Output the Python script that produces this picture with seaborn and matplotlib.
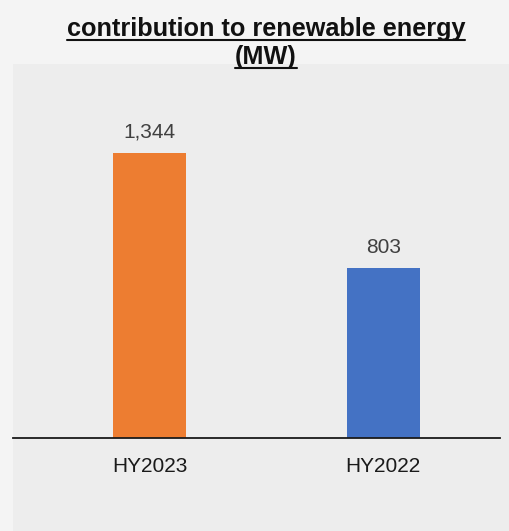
import matplotlib
matplotlib.use("Agg")
import matplotlib.pyplot as plt
import seaborn as sns
import pandas as pd
from matplotlib.lines import Line2D

categories = ["HY2023", "HY2022"]
values = [1344, 803]
value_labels = ["1,344", "803"]
colors = ["#ED7D31", "#4472C4"]
title_lines = ["contribution to renewable energy", "(MW)"]

sns.set_style("white")
plt.rcParams["font.family"] = ["Liberation Sans", "DejaVu Sans"]

W, H = 510, 531
fig = plt.figure(figsize=(W / 100, H / 100), dpi=100)
fig.patch.set_facecolor("#F4F4F4")

bg = fig.add_axes([13 / W, 0, 1 - 13 / W, (H - 64) / H], zorder=-5)
bg.set_facecolor("#EDEDED")
bg.set_xticks([])
bg.set_yticks([])
for s in bg.spines.values():
    s.set_visible(False)

ax = fig.add_axes([13 / W, (H - 438) / H, 487 / W, (438 - 100) / H], zorder=1)
ax.set_facecolor("none")

df = pd.DataFrame({"cat": categories, "val": values})
sns.barplot(data=df, x="cat", y="val", hue="cat", palette=colors,
            width=0.313, legend=False, ax=ax, saturation=1, linewidth=0)

ax.set_xlim(-0.585, 1.5)
ax.set_ylim(0, 1594)
for c, lab in zip(ax.containers, value_labels):
    ax.bar_label(c, labels=[lab], padding=8, fontsize=15, color="#404040")

for s in ["top", "right", "left"]:
    ax.spines[s].set_visible(False)
ax.spines["bottom"].set_color("#1a1a1a")
ax.spines["bottom"].set_linewidth(1.3)
ax.set_yticks([])
ax.set_xlabel("")
ax.set_ylabel("")
ax.tick_params(axis="x", length=0, pad=14, labelsize=15, labelcolor="#1a1a1a")

# Title with underline
fig.canvas.draw()
renderer = fig.canvas.get_renderer()
ys = [H - 36, H - 64]
for line, y in zip(title_lines, ys):
    t = fig.text(266 / W, y / H, line, ha="center", va="baseline",
                 fontsize=18.2, fontweight="bold", color="#111111")
    bb = t.get_window_extent(renderer=renderer)
    uy = (y - 4) / H
    fig.add_artist(Line2D([bb.x0 / W, bb.x1 / W], [uy, uy], transform=fig.transFigure,
                          color="#111111", linewidth=1.5))

fig.savefig("out.png", dpi=100, facecolor=fig.get_facecolor())
